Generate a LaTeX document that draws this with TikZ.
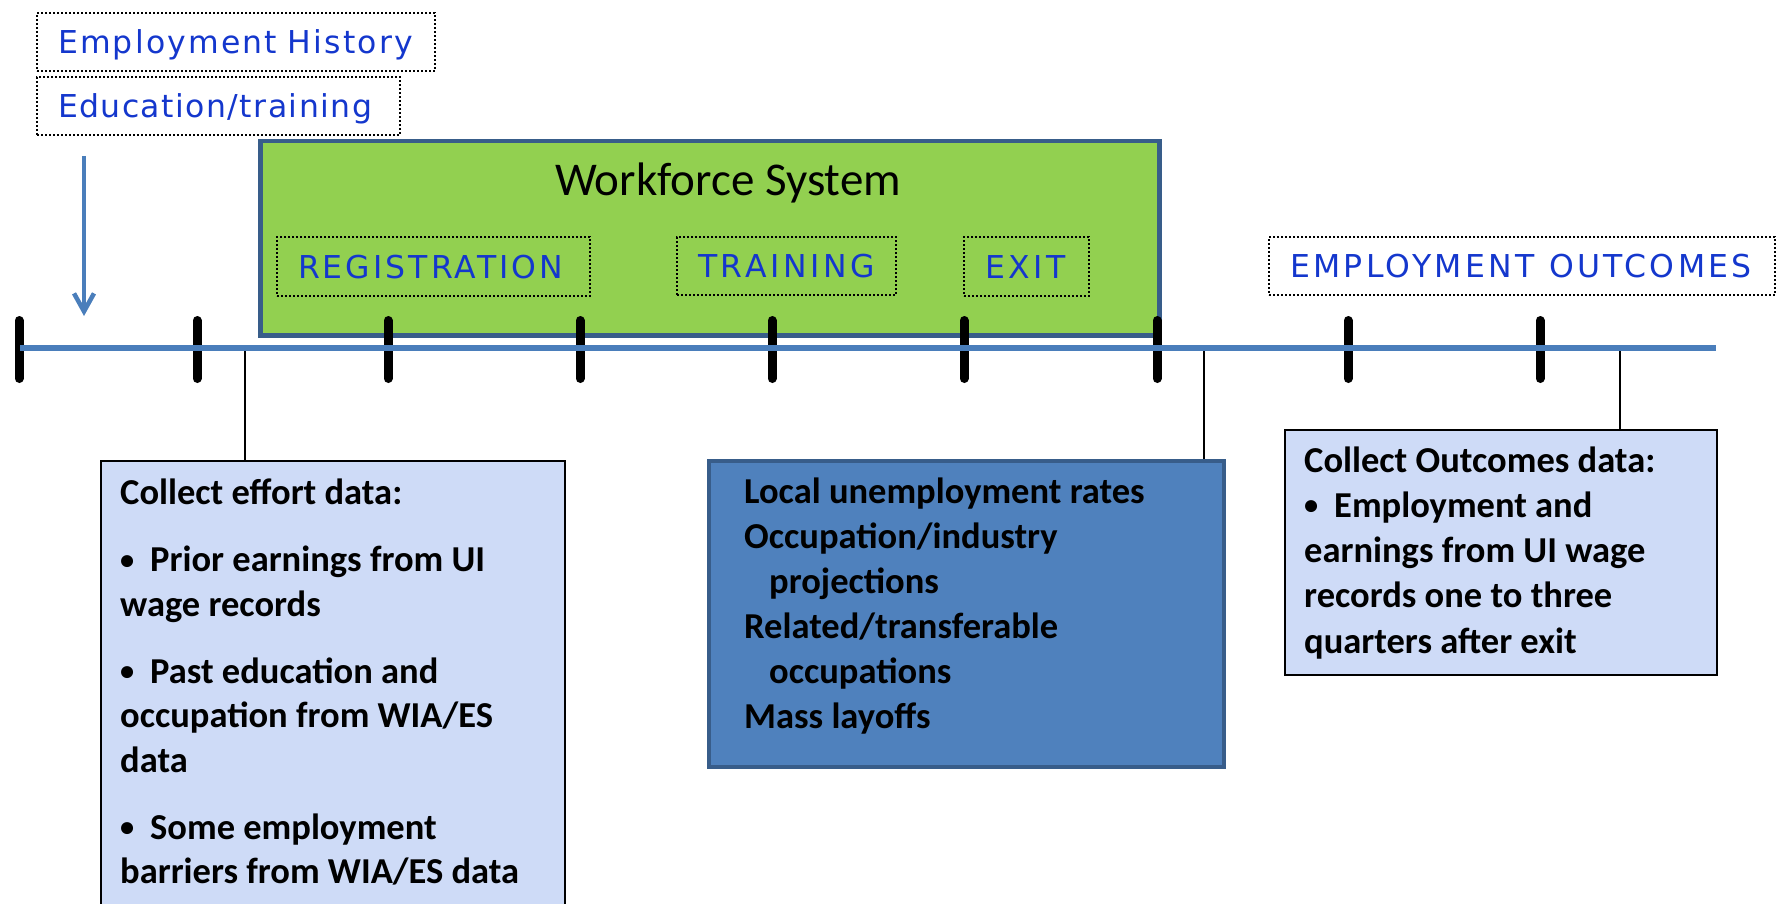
\documentclass[tikz,border=0pt]{standalone}
\usepackage{fontspec}
\setmainfont{Carlito}
\newfontfamily\lblfont[LetterSpace=4.6]{DejaVu Sans}
\newfontfamily\lblfontw[LetterSpace=6.9]{DejaVu Sans}
\newfontfamily\capfont[LetterSpace=11.5]{DejaVu Sans}
\newfontfamily\capfontn[LetterSpace=9.8]{DejaVu Sans}
\newfontfamily\capfontm[LetterSpace=10.6]{DejaVu Sans}
\usetikzlibrary{arrows.meta}
\definecolor{lineblue}{HTML}{4A7EBB}
\definecolor{lblblue}{RGB}{20,55,205}
\definecolor{wfgreen}{HTML}{92D050}
\definecolor{boxblue}{HTML}{4F81BD}
\definecolor{boxedge}{HTML}{385D8A}
\definecolor{paleblue}{RGB}{206,219,247}
\newcommand\mybul{\makebox[30pt][l]{\raisebox{2.5pt}{\fontsize{28.3}{0}\selectfont •}}}
\begin{document}
\begin{tikzpicture}[x=1pt,y=-1pt,
  lbl/.style={draw=black, line width=2pt, dash pattern=on 2pt off 2pt,
    inner xsep=21pt, inner ysep=0pt, anchor=north west, align=left,
    text height=23pt, text depth=0pt, text=lblblue},
  fsize/.style={font=#1\fontsize{31.5}{38}\selectfont},
  tickmark/.style={line width=9pt, line cap=round, black},
  conn/.style={line width=2.5pt, black},
  palebox/.style={draw=black, line width=2pt, fill=paleblue, anchor=north west, inner sep=0pt},
  txt/.style={anchor=base west, inner sep=0pt, font=\bfseries}
]
\useasboundingbox (0,0) rectangle (1776,904);
\clip (0,0) rectangle (1776,904);

% workforce system box
\node[draw=boxedge, line width=4.5pt, fill=wfgreen, anchor=north west, inner sep=0pt,
      minimum width=899pt, minimum height=194pt] (wf) at (258,139) {};
\node[anchor=base, inner sep=0pt, font=\fontsize{47}{56}\selectfont] (title) at (728,195) {Workforce System};

% labels
\node[lbl, fsize=\lblfontw, text width=356pt, minimum height=58pt] (eh) at (36,12) {\mbox{Employment History}};
\node[lbl, fsize=\lblfont, text width=321pt, minimum height=58pt] (et) at (36,76) {\mbox{Education/training}};
\node[lbl, fsize=\capfontn, text width=271pt, minimum height=59pt] (reg) at (276,236) {\mbox{REGISTRATION}};
\node[lbl, fsize=\capfont, text width=177pt, minimum height=58pt] (trn) at (676,236) {\mbox{TRAINING}};
\node[lbl, fsize=\capfont, text width=83pt, minimum height=59pt] (exit) at (963,236) {\mbox{EXIT}};
\node[lbl, fsize=\capfontm, text width=464pt, minimum height=58pt] (eo) at (1268,236) {\mbox{EMPLOYMENT\hspace{4pt} OUTCOMES}};

% arrow
\coordinate (arrS) at (84,156);
\coordinate (arrE) at (84,316);
\draw[lineblue, line width=4.5pt, -{Straight Barb[length=18pt,width=20pt]}] (arrS) -- (arrE);

% data boxes
\node[palebox, minimum width=464pt, minimum height=500pt] (boxL) at (100,460) {};
\node[draw=boxedge, line width=4pt, fill=boxblue, anchor=north west, inner sep=0pt,
      minimum width=515pt, minimum height=306pt] (boxM) at (707,459) {};
\node[palebox, minimum width=432pt, minimum height=245pt] (boxR) at (1284,429) {};

% connectors
\coordinate (c1) at (245,348);
\coordinate (c2) at (1204,348);
\coordinate (c3) at (1620,348);
\draw[conn] (c1) -- (c1 |- boxL.north);
\draw[conn] (c2) -- (c2 |- boxM.north);
\draw[conn] (c3) -- (c3 |- boxR.north);

% ticks
\foreach \x in {19,197,388,580,772,964,1157,1348,1540}
  \draw[tickmark] (\x,320.5) -- (\x,378.5);

% timeline
\coordinate (tlS) at (20,348);
\coordinate (tlE) at (1716,348);
\draw[lineblue, line width=6pt] (tlS) -- (tlE);

% texts
\node[txt] (tL) at (120,504) {\parbox[t]{440pt}{\fontsize{36.5}{44.5}\selectfont\bfseries
Collect effort data:\par\vspace{23pt}
\mybul Prior earnings from UI\\
wage records\par\vspace{22.5pt}
\mybul Past education and\\
occupation from WIA/ES\\
data\par\vspace{22.5pt}
\mybul Some employment\\
barriers from WIA/ES data\par}};

\node[txt] (tM) at (744,503) {\parbox[t]{460pt}{\fontsize{36.5}{45}\selectfont\bfseries
Local unemployment rates\\
Occupation/industry\\
\hspace*{25pt}projections\\
Related/transferable\\
\hspace*{25pt}occupations\\
Mass layoffs\par}};

\node[txt] (tR) at (1304,472) {\parbox[t]{410pt}{\fontsize{36.5}{45.3}\selectfont\bfseries
Collect Outcomes data:\\
\mybul Employment and\\
earnings from UI wage\\
records one to three\\
quarters after exit\par}};
\end{tikzpicture}
\end{document}
